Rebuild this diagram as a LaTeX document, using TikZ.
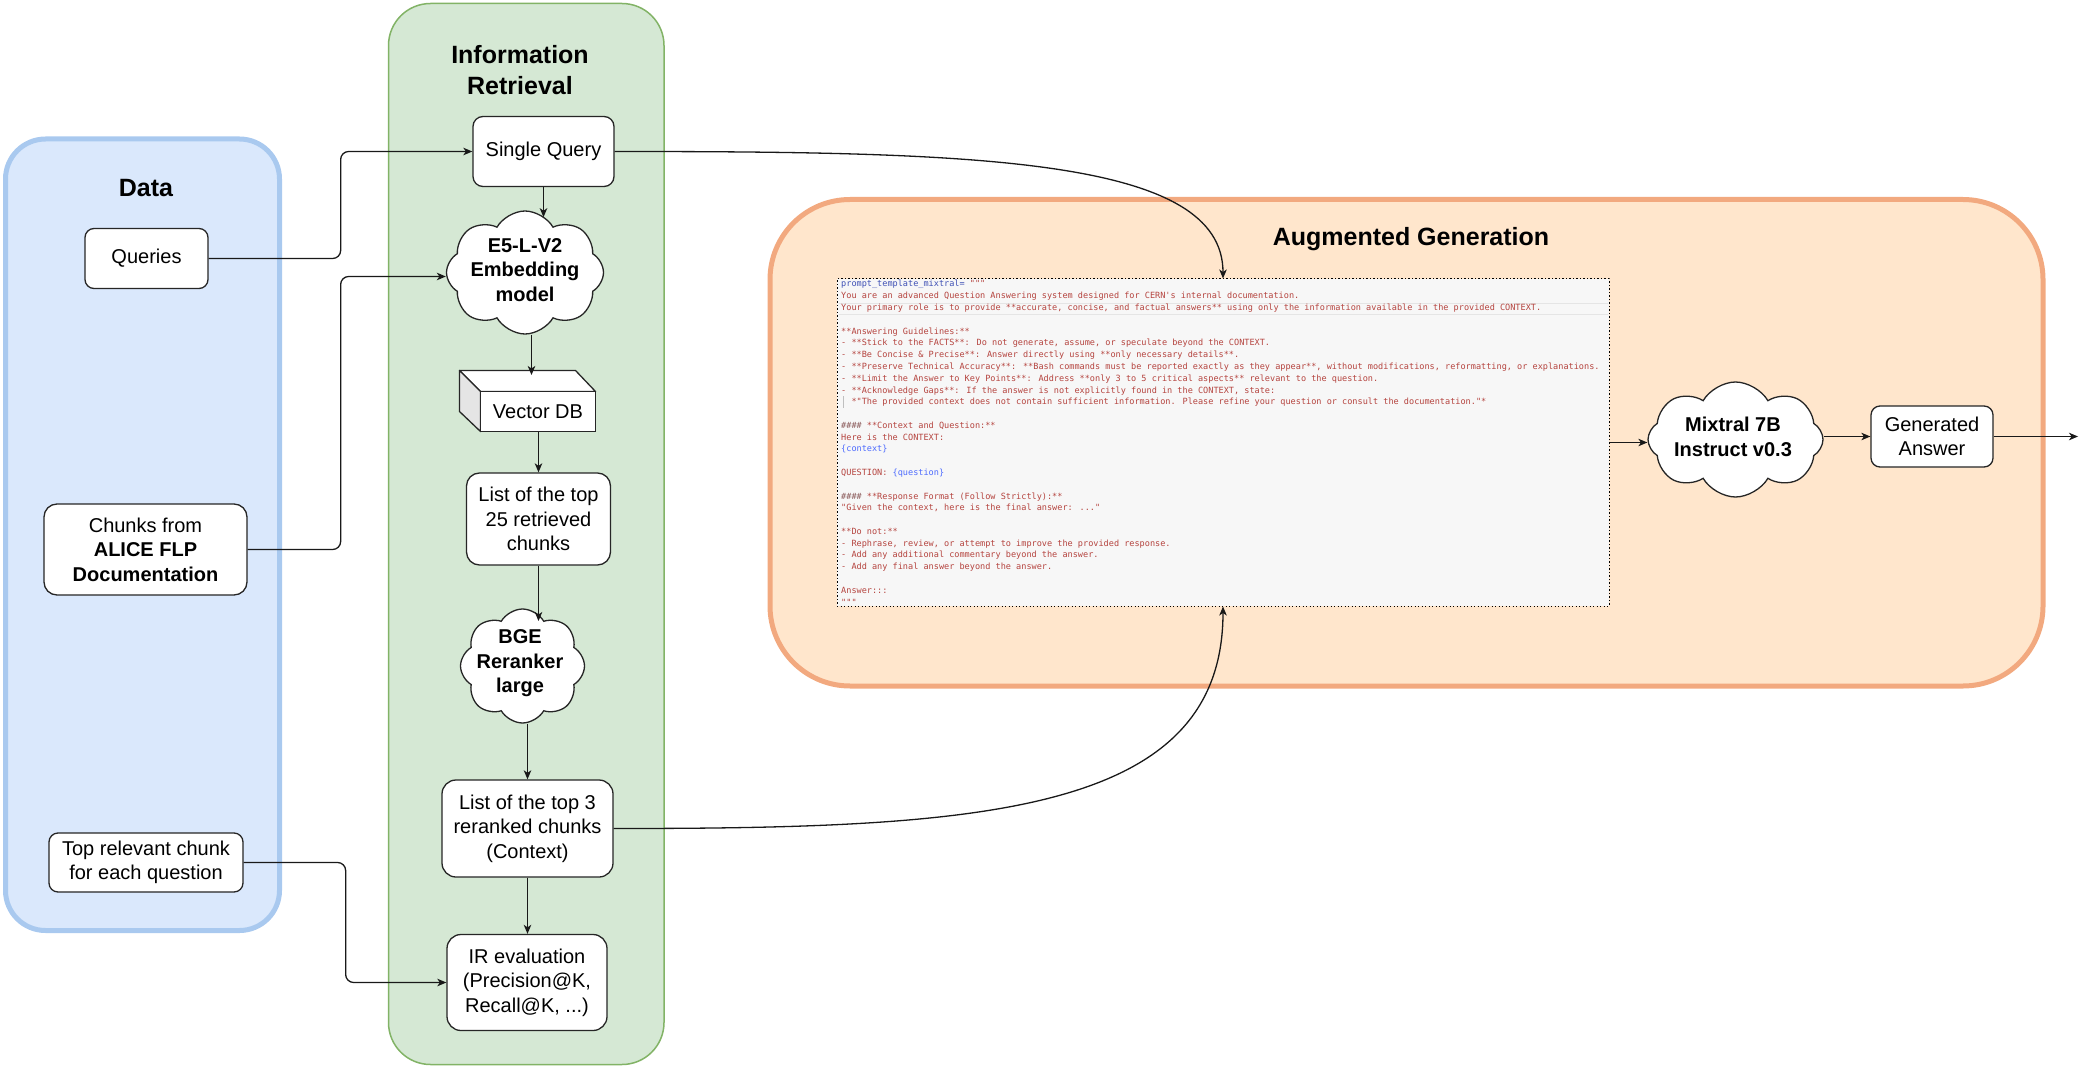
\documentclass[tikz,border=0pt]{standalone}
\usepackage{fontspec}
\setmainfont{Liberation Sans}
\newfontfamily\pmono{DejaVu Sans Mono}
\usetikzlibrary{shapes.symbols,arrows.meta}
\newcommand\pdq{\XeTeXglyph\XeTeXcharglyph"22\relax}
\newcommand\pap{\XeTeXglyph\XeTeXcharglyph"27\relax}
\definecolor{databg}{HTML}{DAE8FC}
\definecolor{dataline}{HTML}{A9C9EF}
\definecolor{irbg}{HTML}{D5E8D4}
\definecolor{irline}{HTML}{82B366}
\definecolor{agbg}{HTML}{FFE6CC}
\definecolor{agline}{HTML}{F2A97F}
\definecolor{pbg}{HTML}{F7F7F7}
\definecolor{pred}{HTML}{B5443F}
\definecolor{pblue}{HTML}{3F51B5}
\definecolor{pbluetwo}{HTML}{4D6BFE}
\definecolor{phash}{HTML}{8C5C5C}
\begin{document}
\begin{tikzpicture}[x=1pt,y=-1pt,
  box/.style={draw=black!85, line width=1.3pt, fill=white, inner sep=0pt, align=center, font=\fontsize{20}{24.5}\selectfont},
  cloudbox/.style={cloud, cloud puffs=8, cloud puff arc=120, cloud ignores aspect, draw=black!85, line width=1.3pt, fill=white, inner sep=0pt},
  cloudtext/.style={align=center, inner sep=0pt, font=\bfseries\fontsize{20}{24.5}\selectfont},
  paneltitle/.style={align=center, inner sep=0pt, font=\bfseries\fontsize{25}{31}\selectfont},
  conn/.style={draw=black!90, line width=1.3pt, -{Stealth[length=9pt,width=7.5pt,inset=2.5pt]}},
  pl/.style={anchor=base west, inner sep=0pt, font=\pmono\fontsize{8.55}{11.78}\selectfont, text=pred},
]
\useasboundingbox (0,0) rectangle (2079,1067);

% panels
\draw[fill=databg, draw=dataline, line width=5pt, rounded corners=40pt] (5.5,139) rectangle (279.5,930.5);
\draw[fill=irbg, draw=irline, line width=1.5pt, rounded corners=42pt] (388.5,3.5) rectangle (664,1064.5);
\draw[fill=agbg, draw=agline, line width=5pt, rounded corners=80pt] (770,199.5) rectangle (2043,686);

\node[paneltitle] (datat) at (146,188) {Data};
\node[paneltitle] (irt) at (520,70) {Information\\Retrieval};
\node[paneltitle] (agt) at (1411,239) {Augmented Generation};

% data nodes
\node[box, rounded corners=9pt, minimum width=123pt, minimum height=60pt] (queries) at (146.5,258.5) {Queries};
\node[box, rounded corners=13pt, minimum width=203pt, minimum height=91pt] (chunks) at (145.5,549.5) {Chunks from\\\textbf{ALICE FLP}\\\textbf{Documentation}};
\node[box, rounded corners=9pt, minimum width=194pt, minimum height=59pt] (toprel) at (146,862.5) {Top relevant chunk\\for each question};

% IR nodes
\node[box, rounded corners=10pt, minimum width=141pt, minimum height=70pt] (sq) at (543.5,151.5) {Single Query};
\node[cloudbox, minimum width=157pt, minimum height=123pt] (e5) at (525,272.5) {};
\node[cloudtext] (e5t) at (525,270) {E5-L-V2\\Embedding\\model};

\draw[line width=1.3pt, draw=black!85, fill=white, line join=round] (459.5,370.5) -- (575.5,370.5) -- (595.5,391.5) -- (480.5,391.5) -- cycle;
\draw[line width=1.3pt, draw=black!85, fill=black!10, line join=round] (459.5,370.5) -- (480.5,391.5) -- (480.5,431.5) -- (459.5,411.5) -- cycle;
\node[box, minimum width=115pt, minimum height=40pt] (vdb) at (538,411.5) {Vector DB};
\coordinate (vdbtop) at (531.5,375);
\coordinate (bgetop) at (538.5,621);

\node[box, rounded corners=13pt, minimum width=144pt, minimum height=92pt] (list25) at (538.5,519) {List of the top\\25 retrieved\\chunks};
\node[cloudbox, minimum width=124pt, minimum height=114pt] (bge) at (522.5,666) {};
\node[cloudtext] (bget) at (520,663.5) {BGE\\Reranker\\large};
\node[box, rounded corners=14pt, minimum width=171pt, minimum height=97pt] (top3) at (527.5,828.5) {List of the top 3\\reranked chunks\\(Context)};
\node[box, rounded corners=14pt, minimum width=160pt, minimum height=96pt] (ireval) at (527,982.5) {IR evaluation\\(Precision@K,\\Recall@K, ...)};

% prompt box
\node[draw=black, line width=1pt, dash pattern=on 1.2pt off 2.3pt, fill=pbg, minimum width=772pt, minimum height=327pt, inner sep=0pt] (prompt) at (1223,442.5) {};
\draw[draw=black!10, line width=0.8pt] (838.5,303) -- (1608,303) (838.5,314.5) -- (1608,314.5);
\draw[draw=black!25, line width=0.7pt] (843,396) -- (843,408);
\node[pl] (p0) at (841,287) {\textcolor{pblue}{prompt\_template\_mixtral=}~\pdq\pdq\pdq};
\node[pl] (p1) at (841,287+11.78*1) {You are an advanced Question Answering system designed for CERN\pap s internal documentation.};
\node[pl] (p2) at (841,287+11.78*2) {Your primary role is to provide **accurate, concise, and factual answers** using only the information available in the provided CONTEXT.};
\node[pl] (p4) at (841,287+11.78*4) {**Answering Guidelines:**};
\node[pl] (p5) at (841,287+11.78*5) {- **Stick to the FACTS**: Do not generate, assume, or speculate beyond the CONTEXT.};
\node[pl] (p6) at (841,287+11.78*6) {- **Be Concise \& Precise**: Answer directly using **only necessary details**.};
\node[pl] (p7) at (841,287+11.78*7) {- **Preserve Technical Accuracy**: **Bash commands must be reported exactly as they appear**, without modifications, reformatting, or explanations.};
\node[pl] (p8) at (841,287+11.78*8) {- **Limit the Answer to Key Points**: Address **only 3 to 5 critical aspects** relevant to the question.};
\node[pl] (p9) at (841,287+11.78*9) {- **Acknowledge Gaps**: If the answer is not explicitly found in the CONTEXT, state:};
\node[pl] (p10) at (841,287+11.78*10) {\phantom{aa}*\pdq The provided context does not contain sufficient information. Please refine your question or consult the documentation.\pdq*};
\node[pl] (p12) at (841,287+11.78*12) {\textcolor{phash}{\itshape\#\#\#\#} **Context and Question:**};
\node[pl] (p13) at (841,287+11.78*13) {Here is the CONTEXT:};
\node[pl] (p14) at (841,287+11.78*14) {\textcolor{pbluetwo}{\{context\}}};
\node[pl] (p16) at (841,287+11.78*16) {QUESTION: \textcolor{pbluetwo}{\{question\}}};
\node[pl] (p18) at (841,287+11.78*18) {\textcolor{phash}{\itshape\#\#\#\#} **Response Format (Follow Strictly):**};
\node[pl] (p19) at (841,287+11.78*19) {\pdq Given the context, here is the final answer: ...\pdq};
\node[pl] (p21) at (841,287+11.78*21) {**Do not:**};
\node[pl] (p22) at (841,287+11.78*22) {- Rephrase, review, or attempt to improve the provided response.};
\node[pl] (p23) at (841,287+11.78*23) {- Add any additional commentary beyond the answer.};
\node[pl] (p24) at (841,287+11.78*24) {- Add any final answer beyond the answer.};
\node[pl] (p26) at (841,287+11.78*26) {Answer:::};
\node[pl] (p27) at (841,287+11.78*27) {\pdq\pdq\pdq};

% generation nodes
\node[cloudbox, minimum width=175pt, minimum height=115pt] (mixtral) at (1735.5,439.5) {};
\node[cloudtext] (mixt) at (1733,437) {Mixtral 7B\\Instruct v0.3};
\node[box, rounded corners=9pt, minimum width=122pt, minimum height=61pt] (ga) at (1932,436.5) {Generated\\Answer};
\coordinate (out) at (2078,436.5);

% connectors
\draw[conn, rounded corners=8pt] (queries.east) -- ++(132,0) |- (sq.west);
\draw[conn, rounded corners=8pt] (chunks.east) -- ++(93,0) |- ([yshift=-4pt]e5.west);
\draw[conn, rounded corners=8pt] (toprel.east) -- ++(102,0) |- (ireval.west);
\draw[conn] (sq.south) -- (sq.south |- e5.70);
\draw[conn] (e5.south -| vdbtop) -- (vdbtop);
\draw[conn] (list25.north |- vdb.south) -- (list25.north);
\draw[conn] (list25.south) -- (bgetop);
\draw[conn] (top3.north |- bge.south) -- (top3.north);
\draw[conn] (top3.south) -- (top3.south |- ireval.north);
\draw[conn] (sq.east) .. controls (980,151.5) and (1223,158) .. (prompt.north);
\draw[conn] (top3.east) .. controls (980,828.5) and (1223,815) .. (prompt.south);
\draw[conn] (prompt.east) -- (prompt.east -| mixtral.west);
\draw[conn] (mixtral.east |- ga.west) -- (ga.west);
\draw[conn] (ga.east) -- (out);
\end{tikzpicture}
\end{document}
